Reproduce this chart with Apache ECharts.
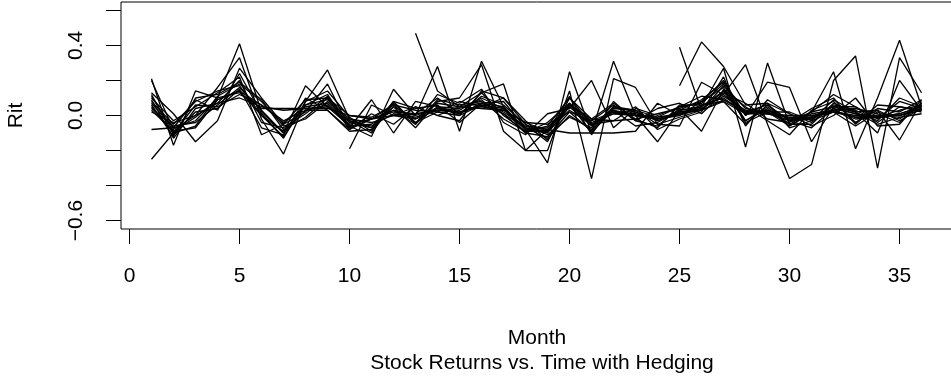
<!DOCTYPE html>
<html>
<head>
<meta charset="utf-8">
<script src="https://cdn.jsdelivr.net/npm/echarts@6/dist/echarts.min.js"></script>
<style>
  html, body { margin: 0; padding: 0; background: #fff; }
  #chart { width: 951px; height: 385px; }
</style>
</head>
<body>
<div id="chart"></div>
<script>
// Monthly returns Rit for each hedged stock (null = no observation yet)
const months = [1,2,3,4,5,6,7,8,9,10,11,12,13,14,15,16,17,18,19,20,21,22,23,24,25,26,27,28,29,30,31,32,33,34,35,36];

const s1  = [0.21,-0.17,0.14,0.10,0.41,0.02,-0.10,0.17,0.05,-0.06,-0.12,0.15,0.00,0.28,-0.09,0.31,0.05,-0.08,-0.27,0.25,-0.10,0.31,0.00,-0.15,0.03,0.05,0.27,-0.18,0.30,-0.05,0.02,0.25,-0.19,0.10,0.43,0.05];
const s2  = [0.20,-0.08,0.00,0.16,0.33,-0.02,-0.22,0.08,0.26,-0.02,-0.07,0.05,-0.07,0.08,0.10,0.29,-0.09,-0.20,-0.20,0.14,-0.36,0.21,0.16,-0.05,-0.06,0.19,0.12,0.29,-0.05,-0.36,-0.28,0.20,0.34,-0.30,0.33,0.13];
const s3  = [0.13,0.01,-0.15,-0.03,0.27,0.10,-0.05,0.02,0.18,-0.07,0.09,-0.10,0.08,0.05,0.00,0.13,0.18,-0.20,-0.08,-0.10,-0.10,-0.10,-0.09,0.07,0.00,0.08,0.20,0.00,0.19,0.16,-0.15,0.05,0.02,-0.10,0.20,0.03];
const s4  = [0.10,-0.03,0.05,0.13,0.22,-0.11,-0.05,0.09,0.10,0.00,-0.01,0.06,-0.04,0.02,0.08,0.05,0.10,-0.03,-0.14,0.06,-0.02,0.07,-0.02,0.01,0.04,-0.09,0.15,0.05,-0.03,-0.11,0.03,0.08,-0.04,0.03,-0.14,0.08];
const s5  = [0.06,-0.12,0.10,0.12,0.19,0.09,-0.08,-0.01,0.10,-0.08,-0.02,0.00,0.05,0.00,0.05,0.13,0.00,-0.09,-0.06,0.10,-0.05,-0.03,-0.02,-0.07,0.06,0.06,0.08,-0.05,0.06,-0.03,-0.07,0.04,-0.04,0.04,0.02,0.09];
const s6  = [0.04,-0.06,-0.04,0.06,0.16,0.03,-0.10,0.03,0.03,-0.09,-0.08,0.05,-0.02,0.07,0.05,0.04,0.03,-0.04,-0.09,0.07,-0.10,0.04,0.03,-0.05,-0.01,0.03,0.17,0.04,0.02,0.02,-0.03,0.09,0.02,-0.05,-0.01,0.01];
const s7  = [0.03,-0.09,-0.07,0.09,0.14,0.00,-0.12,0.06,0.09,-0.02,-0.04,0.00,0.01,0.10,0.01,0.11,0.06,-0.05,-0.11,-0.01,-0.07,0.05,0.02,-0.03,0.01,0.05,0.14,-0.03,0.04,-0.06,0.01,0.03,0.04,0.01,-0.04,0.07];
const s8  = [-0.08,-0.07,-0.03,0.10,0.13,0.04,0.04,0.04,0.05,-0.03,-0.06,0.01,-0.01,0.04,0.01,0.07,0.05,-0.08,-0.07,0.06,-0.04,0.01,0.00,-0.02,0.00,0.04,0.11,0.03,0.01,-0.01,-0.01,0.02,-0.01,-0.01,0.01,0.05];
const s9  = [-0.25,-0.10,0.06,0.05,0.12,0.06,-0.04,0.05,0.07,-0.05,-0.02,0.06,0.03,0.02,0.00,0.06,0.04,-0.10,-0.12,0.02,-0.09,0.05,0.03,-0.01,0.05,0.07,0.18,-0.03,0.05,-0.05,-0.05,0.07,0.02,0.03,-0.03,0.04];
const s10 = [0.08,-0.05,0.08,0.14,0.17,0.00,-0.09,0.06,0.12,-0.07,-0.02,0.03,-0.05,0.09,0.06,0.08,0.01,-0.10,-0.04,0.07,-0.03,0.06,-0.03,-0.06,0.04,0.08,0.16,-0.04,0.02,-0.06,0.02,0.05,0.05,-0.04,0.05,0.03];
const s11 = [0.02,-0.04,0.00,0.07,0.10,0.05,0.03,0.04,0.04,0.00,-0.02,0.02,0.01,0.03,0.02,0.05,0.03,-0.04,-0.05,0.02,-0.03,0.02,0.00,-0.01,0.01,0.03,0.08,0.01,0.01,0.00,0.00,0.02,0.00,0.00,0.00,0.03];
const s12 = [0.12,-0.11,0.02,0.04,0.15,-0.07,-0.11,0.10,0.03,-0.08,0.01,-0.05,0.05,0.00,-0.03,0.14,0.10,-0.05,-0.15,0.10,-0.02,-0.03,0.05,-0.08,-0.02,0.02,0.22,-0.06,0.09,0.01,-0.06,0.00,0.10,-0.06,-0.05,0.09];
const s13 = [0.05,-0.10,-0.06,0.11,0.18,0.08,-0.06,-0.02,0.08,-0.03,-0.10,0.07,-0.04,0.05,0.04,0.09,-0.02,-0.09,-0.09,0.11,-0.11,0.08,-0.03,0.04,0.07,0.01,0.13,0.07,-0.02,-0.04,0.04,0.10,-0.05,0.06,0.05,0.02];
const s14 = [0.09,-0.13,0.04,0.07,0.20,-0.04,-0.07,0.01,0.11,-0.04,-0.07,0.08,0.04,0.06,-0.04,0.07,0.08,-0.07,-0.13,0.00,-0.08,0.03,-0.06,-0.04,0.03,0.09,0.19,0.00,0.07,-0.07,-0.03,0.02,-0.06,0.02,-0.02,0.07];
const s15 = [0.07,-0.07,0.09,0.03,0.24,0.01,-0.13,0.08,0.14,-0.01,-0.09,0.08,-0.05,0.12,0.07,0.15,-0.04,-0.11,0.01,0.04,0.20,-0.07,0.04,0.00,0.05,0.11,0.09,0.02,0.06,-0.03,0.02,0.12,0.05,-0.02,0.08,0.04];
const s16 = [0.11,-0.09,-0.01,0.09,0.14,0.06,-0.03,0.03,0.06,-0.06,-0.05,0.03,0.00,0.04,0.03,0.10,0.04,-0.08,-0.10,0.05,-0.06,0.02,0.02,-0.03,0.02,0.04,0.12,0.02,0.03,-0.02,-0.02,0.04,0.01,-0.01,0.01,0.05];
const s17 = [null,null,null,null,null,null,null,null,null,-0.19,0.06,0.00,-0.02,0.03,0.02,0.06,0.01,-0.07,-0.09,0.03,-0.05,0.01,0.01,-0.02,0.02,0.03,0.09,0.02,0.01,-0.03,-0.02,0.03,-0.01,0.00,0.00,0.05];
const s18 = [null,null,null,null,null,null,null,null,null,null,null,null,0.47,0.14,0.05,0.07,0.02,-0.06,-0.08,0.05,-0.05,0.03,0.00,-0.02,0.01,0.06,0.10,0.01,0.02,-0.03,-0.01,0.05,0.01,-0.01,0.00,0.04];
const s19 = [null,null,null,null,null,null,null,null,null,null,null,null,null,null,null,null,null,null,null,null,null,null,null,null,0.39,0.03,0.14,0.02,0.03,-0.02,-0.01,0.03,-0.02,-0.01,0.03,0.06];
const s20 = [null,null,null,null,null,null,null,null,null,null,null,null,null,null,null,null,null,null,null,null,null,null,null,null,0.17,0.42,0.28,0.06,0.07,0.01,-0.04,0.06,0.03,-0.03,0.10,0.05];

const stocks = [s1,s2,s3,s4,s5,s6,s7,s8,s9,s10,s11,s12,s13,s14,s15,s16,s17,s18,s19,s20];

// Axis tick positions and which of them carry a label
const xTicks = [0,5,10,15,20,25,30,35];
const yTicks = [-0.6,-0.4,-0.2,0.0,0.2,0.4,0.6];
const yLabelled = [-0.6,0.0,0.4];

const FONT = '"Liberation Sans", Arial, Helvetica, sans-serif';
const FS = 21;

const chart = echarts.init(document.getElementById('chart'), null, { renderer: 'canvas' });

chart.setOption({
  animation: false,
  backgroundColor: '#ffffff',
  grid: {
    left: 121, top: 2, width: 832, height: 227,
    outerBoundsMode: 'none', containLabel: false,
    show: true, borderColor: '#000', borderWidth: 1, backgroundColor: 'transparent'
  },
  title: {
    text: 'Stock Returns vs. Time with Hedging',
    left: 537, top: 348, textAlign: 'center',
    textStyle: { fontFamily: FONT, fontSize: FS, fontWeight: 'normal', color: '#000' }
  },
  xAxis: {
    type: 'value', min: -0.386, max: 37.43,
    name: 'Month', nameLocation: 'middle', nameGap: 99,
    nameTextStyle: { fontFamily: FONT, fontSize: FS, color: '#000' },
    splitLine: { show: false },
    axisLine: { show: false, onZero: false },
    axisTick: { show: true, inside: false, length: 15, customValues: xTicks,
                lineStyle: { color: '#000', width: 1 } },
    axisLabel: { customValues: xTicks, margin: 37, fontFamily: FONT, fontSize: FS, color: '#000' }
  },
  yAxis: {
    type: 'value', min: -0.648, max: 0.648,
    name: 'Rit', nameLocation: 'middle', nameGap: 94, nameRotate: 90,
    nameTextStyle: { fontFamily: FONT, fontSize: FS, color: '#000' },
    splitLine: { show: false },
    axisLine: { show: false, onZero: false },
    axisTick: { show: true, inside: false, length: 15, customValues: yTicks,
                lineStyle: { color: '#000', width: 1 } },
    axisLabel: {
      customValues: yLabelled, rotate: 90, margin: 34,
      fontFamily: FONT, fontSize: FS, color: '#000',
      formatter: v => (v < 0 ? '\u2212' : '') + Math.abs(v).toFixed(1)
    }
  },
  series: stocks.map((vals, i) => ({
    name: 'stock' + (i + 1),
    type: 'line',
    data: months.map((m, k) => [m, vals[k]]),
    showSymbol: false,
    connectNulls: false,
    silent: true,
    clip: true,
    lineStyle: { color: '#000', width: 1.3 }
  }))
});
</script>
</body>
</html>
